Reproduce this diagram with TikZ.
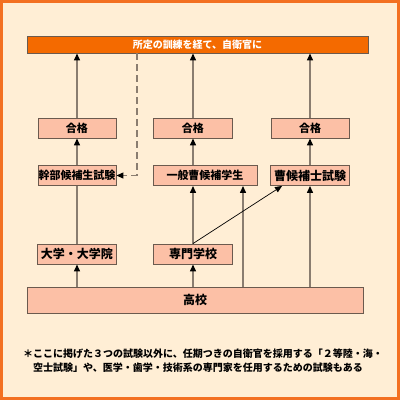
\documentclass[tikz,border=0pt]{standalone}
\usepackage{fontspec}
\setmainfont{Noto Sans CJK JP}
\usetikzlibrary{arrows.meta,calc}
\definecolor{bgc}{HTML}{FFEED5}
\definecolor{framec}{HTML}{F37021}
\definecolor{boxc}{HTML}{FCC0A6}
\definecolor{boxd}{HTML}{6B5A4E}
\definecolor{barc}{HTML}{F46A00}
\definecolor{linec}{HTML}{8A7D70}
\tikzset{
  box/.style={draw=boxd, fill=boxc, line width=0.9pt, inner sep=0pt, font=\bfseries\fontsize{12}{12}\selectfont, text=black},
  arr/.style={draw=linec, line width=1.3pt, -{Triangle[length=7pt,width=6pt,color=black]}},
  plain/.style={draw=linec, line width=1.3pt},
  diag/.style={draw=black, line width=0.7pt, -{Triangle[length=7pt,width=6pt,color=black]}},
  dsh/.style={draw=linec, line width=1.3pt, dash pattern=on 7pt off 4pt, -{Triangle[length=7pt,width=6pt,color=black]}},
  note/.style={anchor=west, inner sep=0pt, font=\bfseries\fontsize{10}{10}\selectfont}
}
\begin{document}
\begin{tikzpicture}[x=1pt,y=-1pt]
\useasboundingbox (0,0) rectangle (400,400);
\fill[framec] (0,0) rectangle (400,400);
\fill[bgc] (3,3) rectangle (397,397);
% top bar
\node[box, fill=barc, draw=boxd, minimum width=341pt, minimum height=17pt, text=white, font=\bfseries\fontsize{10}{10}\selectfont] (bar) at (197.5,44.5) {所定の訓練を経て、自衛官に};
% pass boxes
\node[box, minimum width=78pt, minimum height=20pt, font=\bfseries\fontsize{11}{11}\selectfont] (g1) at (77,128) {合格};
\node[box, minimum width=79pt, minimum height=20pt, font=\bfseries\fontsize{11}{11}\selectfont] (g2) at (193,128) {合格};
\node[box, minimum width=78pt, minimum height=20pt, font=\bfseries\fontsize{11}{11}\selectfont] (g3) at (310,128) {合格};
% row 2
\node[box, minimum width=78pt, minimum height=20pt, font=\bfseries\fontsize{11}{11}\selectfont] (kb) at (77,175.5) {幹部候補生試験};
\node[box, minimum width=104pt, minimum height=20pt, font=\bfseries\fontsize{11}{11}\selectfont] (ip) at (205,175.5) {一般曹候補学生};
\node[box, minimum width=79pt, minimum height=20pt] (sk) at (310,175.5) {曹候補士試験};
% row 3
\node[box, minimum width=79pt, minimum height=20pt] (dg) at (77,254) {大学・大学院};
\node[box, minimum width=79pt, minimum height=20pt] (sm) at (193,254) {専門学校};
% high school
\node[box, minimum width=336pt, minimum height=26pt] (kk) at (195,300) {高校};
\coordinate (xd) at (137,0);
\coordinate (xh) at (243,0);
% connectors
\draw[arr] (g1.north) -- (bar.south -| g1.north);
\draw[arr] (g2.north) -- (bar.south -| g2.north);
\draw[arr] (g3.north) -- (bar.south -| g3.north);
\draw[arr] (kb.north) -- (g1.south);
\draw[arr] (ip.north -| g2.south) -- (g2.south);
\draw[arr] (sk.north -| g3.south) -- (g3.south);
\draw[plain] (dg.north) -- (kb.south);
\draw[arr] (kk.north -| dg.south) -- (dg.south);
\draw[arr] (kk.north -| sm.south) -- (sm.south);
\draw[arr] (sm.north) -- (ip.south -| sm.north);
\draw[arr] (kk.north -| xh) -- (ip.south -| xh);
\draw[arr] (kk.north -| sk.south) -- (sk.south);
\draw[diag] (sm.north) -- ($(sk.south west)+(12,0)$);
\draw[dsh] (bar.south -| xd) |- (kb.east);
% footnote
\node[note] (n1) at (23,354) {＊ここに掲げた３つの試験以外に、任期つきの自衛官を採用する「２等陸・海・};
\node[note] (n2) at (33,368) {空士試験」や、医学・歯学・技術系の専門家を任用するための試験もある};
\end{tikzpicture}
\end{document}
